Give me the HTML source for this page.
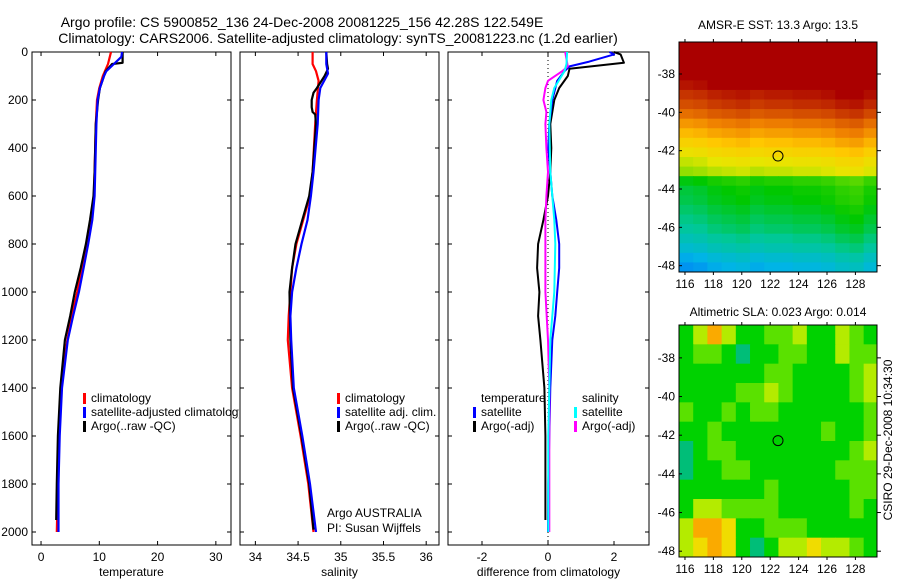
<!DOCTYPE html>
<html><head><meta charset="utf-8">
<style>
html,body{margin:0;padding:0;background:#fff;}
svg{display:block;font-family:"Liberation Sans",Arial,sans-serif;}
text{font-size:12px;fill:#000;}
.ttl{font-size:14px;}
</style></head>
<body>
<svg id="fig" width="900" height="580" viewBox="0 0 900 580">
<text class="ttl" x="302" y="27" text-anchor="middle">Argo profile: CS 5900852_136 24-Dec-2008 20081225_156 42.28S 122.549E</text>
<text class="ttl" x="338" y="43" text-anchor="middle">Climatology: CARS2006. Satellite-adjusted climatology: synTS_20081223.nc (1.2d earlier)</text>
<g id="panels"></g>
</svg>
<script>
// ---- profile data (depth in m) ----
const tClimD = [0,50,100,150,200,300,400,500,600,700,800,900,1000,1100,1200,1300,1400,1600,1800,2000];
const tClimV = [12.0,11.5,10.6,10.0,9.6,9.4,9.3,9.2,9.1,8.6,7.9,7.0,6.2,5.3,4.5,3.9,3.5,3.1,2.9,2.7];
const tSatD = [0,20,50,80,100,150,200,300,400,500,600,700,800,900,1000,1100,1200,1400,1600,1800,2000];
const tSatV = [13.9,13.8,12.5,11.2,10.8,10.1,9.7,9.5,9.4,9.3,9.2,8.8,8.1,7.3,6.5,5.5,4.6,3.6,3.2,3.0,3.0];
const tArgoD = [0,45,50,80,100,150,200,300,400,500,600,700,800,900,1000,1100,1200,1400,1600,1800,1950];
const tArgoV = [14.0,14.0,12.2,11.1,10.8,10.1,9.8,9.4,9.3,9.2,9.0,8.4,7.7,6.8,5.8,5.0,4.1,3.3,2.9,2.7,2.6];

const sClimD = [0,50,80,120,200,300,500,600,700,800,900,1000,1100,1200,1400,1600,1800,2000];
const sClimV = [34.67,34.67,34.71,34.74,34.72,34.70,34.67,34.64,34.56,34.48,34.43,34.41,34.39,34.38,34.43,34.53,34.62,34.68];
const sSatD = [0,50,90,150,200,300,500,600,700,800,900,1000,1100,1200,1400,1600,1800,2000];
const sSatV = [34.83,34.83,34.85,34.76,34.74,34.73,34.68,34.65,34.61,34.54,34.48,34.43,34.41,34.42,34.45,34.55,34.64,34.71];
const sArgoD = [0,50,70,100,150,170,200,230,250,260,300,500,600,700,800,900,1000,1200,1400,1600,1800,1990];
const sArgoV = [34.83,34.84,34.85,34.81,34.72,34.68,34.66,34.66,34.67,34.70,34.71,34.67,34.63,34.55,34.47,34.43,34.40,34.41,34.44,34.54,34.63,34.68];

const dTSatD = [0,10,40,60,80,120,200,300,400,500,600,700,800,900,1000,1100,1200,1400,1600,1800,2000];
const dTSatV = [1.86,2.0,1.25,0.65,0.5,0.28,0.13,0.04,0.01,0.07,0.13,0.25,0.34,0.34,0.28,0.22,0.13,0.07,0.04,0.01,0.0];
const dTArgoD = [0,10,45,70,100,150,200,250,300,400,500,600,700,800,900,1000,1100,1200,1400,1600,1800,1950];
const dTArgoV = [2.0,2.2,2.3,0.65,0.6,0.34,0.19,0.13,0.07,0.1,0.07,0.0,-0.14,-0.3,-0.33,-0.26,-0.3,-0.23,-0.11,-0.08,-0.08,-0.08];
const dSSatD = [0,50,80,150,200,300,500,600,700,800,1000,1200,1600,2000];
const dSSatV = [0.58,0.56,0.5,0.19,0.1,0.04,0.07,0.13,0.19,0.22,0.19,0.07,0.01,0.01];
const dSArgoD = [0,60,80,120,150,200,250,300,400,500,600,700,800,1000,1200,1400,1600,1800,2000];
const dSArgoV = [0.52,0.6,0.43,0.0,-0.08,-0.14,-0.05,-0.08,-0.05,0.0,-0.05,-0.08,-0.08,-0.08,0.0,0.04,0.04,0.04,0.04];

const depthTicks = [0,200,400,600,800,1000,1200,1400,1600,1800,2000];
const tTicks = [0,10,20,30];
const sTicks = [34,34.5,35,35.5,36];
const sTickLabels = ["34","34.5","35","35.5","36"];
const dTicks = [-2,0,2];

// ---- map data ----
const sstLatTop = -36.33, sstRowStep = 0.5;
const sstRows = [18.6,18.6,18.4,18.0,17.4,16.9,16.5,16.0,15.4,14.9,14.4,13.9,13.4,13.0,11.6,11.3,11.2,11.0,10.8,10.6,10.3,10.0,9.6,9.3];
const sstColAnom = [-0.4,-0.3,-0.1,0,0.1,-0.1,0,0,0.1,0.1,0.2,0.4,0.5,0.2];
const slaGrid = [
[1,3,5,3,1,1,2,2,3,1,1,3,2,1],
[1,2,2,1,0,1,1,2,2,1,1,3,2,2],
[1,1,1,1,1,1,2,2,1,1,1,1,2,3],
[1,1,1,1,2,2,3,2,1,1,1,1,2,3],
[2,1,1,2,1,2,2,1,1,1,1,1,1,2],
[1,1,2,1,1,1,1,1,1,1,2,1,1,2],
[0,1,2,2,1,1,1,1,1,1,1,1,2,3],
[0,1,1,2,2,1,1,1,1,1,1,2,2,2],
[1,1,1,1,1,1,2,1,1,1,1,1,2,2],
[1,3,3,2,2,2,2,1,1,1,1,1,2,1],
[3,5,5,4,1,1,2,2,2,1,1,1,1,1],
[3,4,5,4,1,0,1,3,3,4,3,3,2,1]];
const latTicks = [-38,-40,-42,-44,-46,-48];
const lonTicks = [116,118,120,122,124,126,128];
const argoLon = 122.55, argoLat = -42.28;

const NS='http://www.w3.org/2000/svg';
const root=document.getElementById('panels');
function el(tag,attrs,parent){const e=document.createElementNS(NS,tag);for(const k in attrs)e.setAttribute(k,attrs[k]);(parent||root).appendChild(e);return e;}

const yTop=52, pxPerM=0.24;
const yD=d=>yTop+d*pxPerM;
const pBottom=545;

function panel(name,x0,x1,vmin,vmax,ticks,labels,title,showDepth){
  const g=el('g',{});
  
  
  const sx=v=>x0+(v-vmin)/(vmax-vmin)*(x1-x0);
  const r=el('rect',{x:x0,y:yTop,width:x1-x0,height:pBottom-yTop,fill:'#fff',stroke:'#000','stroke-width':1},g);
  
  
  ticks.forEach((t,i)=>{
    const X=sx(t);
    el('line',{x1:X,y1:yTop,x2:X,y2:yTop+4,stroke:'#000'},g);
    el('line',{x1:X,y1:pBottom,x2:X,y2:pBottom-4,stroke:'#000'},g);
    const tx=el('text',{x:X,y:pBottom+16,'text-anchor':'middle'},g);
    tx.textContent=labels[i];
    
    
  });
  depthTicks.forEach(d=>{
    el('line',{x1:x0,y1:yD(d),x2:x0+4,y2:yD(d),stroke:'#000'},g);
    el('line',{x1:x1,y1:yD(d),x2:x1-4,y2:yD(d),stroke:'#000'},g);
    if(showDepth){
      const tx=el('text',{x:28,y:yD(d)+4,'text-anchor':'end'},g);
      tx.textContent=String(d);
      
      
    }
  });
  const at=el('text',{x:(x0+x1)/2,y:576,'text-anchor':'middle'},g);
  at.textContent=title;
  
  
  return {g,sx};
}
function line(p,D,V,color,name,w){
  const pts=D.map((d,i)=>p.sx(V[i]).toFixed(1)+','+yD(d).toFixed(1)).join(' ');
  const l=el('polyline',{points:pts,fill:'none',stroke:color,'stroke-width':w||2.2,'stroke-linejoin':'round'},p.g);
  
  
}
function legend(g,x,y,color,label){
  const b=el('rect',{x:x,y:y-9,width:3,height:11,fill:color},g);
  
  
  if(label){const t=el('text',{x:x+8,y:y},g);t.textContent=label;
  
  }
}

const defs=el('defs',{});
const cp=el('clipPath',{id:'c1'},defs);el('rect',{x:0,y:0,width:239,height:580},cp);

const p1=panel('temperature-panel',32,231,-1.55,32.6,tTicks,tTicks.map(String),'temperature',true);
line(p1,tClimD,tClimV,'#f00','temp-climatology-line');
line(p1,tArgoD,tArgoV,'#000','temp-argo-line');
line(p1,tSatD,tSatV,'#00f','temp-satellite-line');
const lg1=el('g',{'clip-path':'url(#c1)'},p1.g);
legend(lg1,83,402,'#f00','climatology');
legend(lg1,83,416,'#00f','satellite-adjusted climatology');
legend(lg1,83,430,'#000','Argo(..raw -QC)');

const p2=panel('salinity-panel',240,439,33.82,36.15,sTicks,sTickLabels,'salinity',false);
line(p2,sClimD,sClimV,'#f00','sal-climatology-line');
line(p2,sArgoD,sArgoV,'#000','sal-argo-line');
line(p2,sSatD,sSatV,'#00f','sal-satellite-line');
legend(p2.g,337,402,'#f00','climatology');
legend(p2.g,337,416,'#00f','satellite adj. clim.');
legend(p2.g,337,430,'#000','Argo(..raw -QC)');
const a1=el('text',{x:327,y:517},p2.g);a1.textContent='Argo AUSTRALIA';

const a2=el('text',{x:327,y:532},p2.g);a2.textContent='PI: Susan Wijffels';


const p3=panel('difference-panel',448,649,-3.03,3.06,dTicks,dTicks.map(String),'difference from climatology',false);
const zl=el('line',{x1:p3.sx(0),y1:yTop,x2:p3.sx(0),y2:pBottom,stroke:'#000','stroke-width':1,'stroke-dasharray':'1,3'},p3.g);

line(p3,dTArgoD,dTArgoV,'#000','diff-temp-argo-line',2);
line(p3,dTSatD,dTSatV,'#00f','diff-temp-satellite-line',2);
line(p3,dSArgoD,dSArgoV,'#f0f','diff-sal-argo-line',2);
line(p3,dSSatD,dSSatV,'#0ff','diff-sal-satellite-line',2);
const lt=el('text',{x:481,y:402},p3.g);lt.textContent='temperature';

legend(p3.g,473,416,'#00f','satellite');
legend(p3.g,473,430,'#000','Argo(-adj)');
const ls=el('text',{x:582,y:402},p3.g);ls.textContent='salinity';

legend(p3.g,574,416,'#0ff','satellite');
legend(p3.g,574,430,'#f0f','Argo(-adj)');

// ---- maps ----
const mx0=679,mx1=877,lon0=115.58,lon1=129.52;
const lonX=l=>mx0+(l-lon0)/(lon1-lon0)*(mx1-mx0);
const sstStops=[[0,100,255],[0,180,230],[0,200,150],[0,200,0],[110,220,0],[230,230,0],[255,200,0],[240,130,0],[205,65,0],[170,0,0]];
function sstColor(T){let v=Math.max(0,Math.min(9,T-8.3));const i=Math.min(8,Math.floor(v)),f=v-i;
  const a=sstStops[i],b=sstStops[i+1];return 'rgb('+a.map((c,k)=>Math.round(c+(b[k]-c)*f)).join(',')+')';}
const slaColors=['rgb(0,190,120)','rgb(0,210,0)','rgb(90,225,0)','rgb(180,235,0)','rgb(240,220,0)','rgb(250,170,0)'];

function mapPanel(name,yt,yb,latTop,latBot,title,titleY){
  const g=el('g',{});
  
  const latY=l=>yt+(latTop-l)/(latTop-latBot)*(yb-yt);
  const tt=el('text',{x:778,y:titleY,'text-anchor':'middle'},g);tt.textContent=title;
  
  return {g,latY,yt,yb};
}
function mapAxes(m){
  el('rect',{x:mx0,y:m.yt,width:mx1-mx0,height:m.yb-m.yt,fill:'none',stroke:'#000'},m.g);
  latTicks.forEach(l=>{const Y=m.latY(l);
    el('line',{x1:mx0,y1:Y,x2:mx0+3,y2:Y,stroke:'#000'},m.g);
    el('line',{x1:mx1,y1:Y,x2:mx1+4,y2:Y,stroke:'#000'},m.g);
    const t=el('text',{x:675,y:Y+4,'text-anchor':'end'},m.g);t.textContent=String(l);
    });
  lonTicks.forEach(l=>{const X=lonX(l);
    el('line',{x1:X,y1:m.yt,x2:X,y2:m.yt-3,stroke:'#000'},m.g);
    el('line',{x1:X,y1:m.yb,x2:X,y2:m.yb+3,stroke:'#000'},m.g);
    const t=el('text',{x:X,y:m.yb+16,'text-anchor':'middle'},m.g);t.textContent=String(l);
    });
  const c=el('circle',{cx:lonX(argoLon),cy:m.latY(argoLat),r:5,fill:'none',stroke:'#000','stroke-width':1},m.g);
  
}
const m1=mapPanel('sst-map',42,272,sstLatTop,-48.33,'AMSR-E SST: 13.3  Argo: 13.5',29);
sstRows.forEach((T,r)=>{sstColAnom.forEach((a,c)=>{
  const la=sstLatTop-r*sstRowStep, X=lonX(lon0+c), X2=lonX(Math.min(lon1,lon0+c+1));
  const Y=m1.latY(la), Y2=m1.latY(la-sstRowStep);
  const cell=el('rect',{x:X,y:Y,width:X2-X+0.5,height:Y2-Y+0.5,fill:sstColor(T+a)},m1.g);
  
  
});});
mapAxes(m1);

const m2=mapPanel('sla-map',325,557,-36.3,-48.3,'Altimetric SLA: 0.023  Argo: 0.014',316);
slaGrid.forEach((row,r)=>{row.forEach((v,c)=>{
  const X=lonX(lon0+c), X2=lonX(Math.min(lon1,lon0+c+1));
  const Y=m2.latY(-36.3-r), Y2=m2.latY(-37.3-r);
  const cell=el('rect',{x:X,y:Y,width:X2-X+0.5,height:Y2-Y+0.5,fill:slaColors[v]},m2.g);
  
  
});});
mapAxes(m2);

const cs=el('text',{x:0,y:0,'text-anchor':'middle',transform:'translate(892,440) rotate(-90)'});
cs.textContent='CSIRO 29-Dec-2008 10:34:30';


</script>
</body></html>
